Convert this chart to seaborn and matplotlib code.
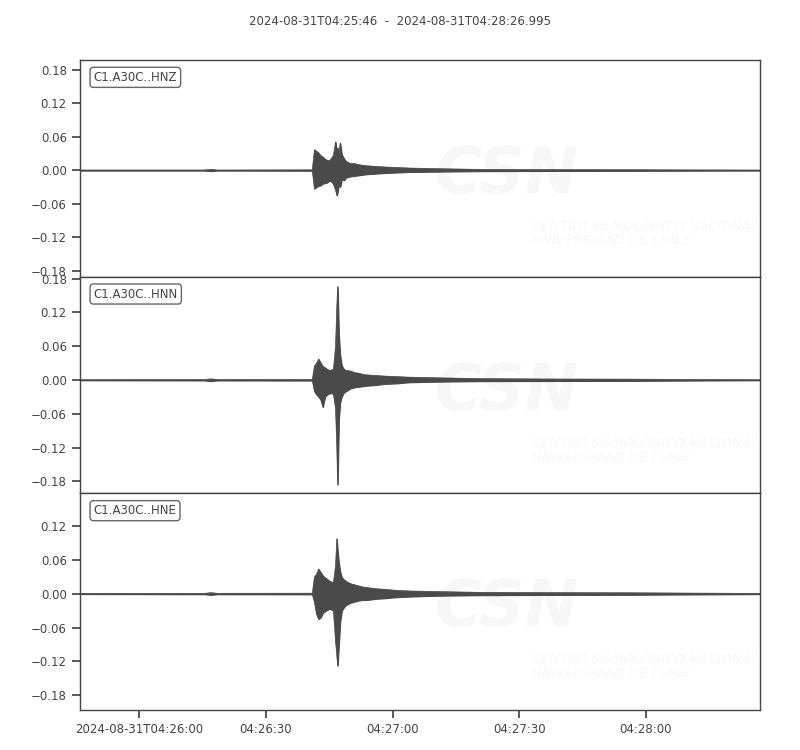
import matplotlib
matplotlib.use('Agg')
import matplotlib.pyplot as plt
import seaborn as sns
import pandas as pd

start_time = '2024-08-31 04:25:46'
title = '2024-08-31T04:25:46  -  2024-08-31T04:28:26.995'
channels = ['C1.A30C..HNZ', 'C1.A30C..HNN', 'C1.A30C..HNE']

# seconds after start_time, envelope (max/min per time bin)
t_sec = [0, 29.5, 31, 32.5, 55.0, 55.5, 56.0, 56.5, 57.0, 57.5, 58.0, 58.5, 59.0, 59.5,
         60.0, 60.5, 60.8, 61.0, 61.3, 61.6, 62.0, 62.5, 63.0, 64, 65, 66, 67, 68,
         70, 72, 75, 78, 84, 95, 110, 130, 145, 160.995]

hnz_max = [0.0005, 0.0005, 0.0018, 0.0005, 0.0008, 0.037, 0.034, 0.031, 0.026, 0.024, 0.020, 0.018, 0.017, 0.021,
           0.027, 0.051, 0.035, 0.040, 0.030, 0.049, 0.028, 0.021, 0.016, 0.012, 0.012, 0.010, 0.009, 0.008,
           0.007, 0.006, 0.005, 0.004, 0.003, 0.0015, 0.0012, 0.001, 0.0007, 0.0005]
hnz_min = [-0.0005, -0.0005, -0.0015, -0.0005, -0.0008, -0.033, -0.030, -0.028, -0.027, -0.024, -0.023, -0.022, -0.019, -0.020,
           -0.025, -0.035, -0.045, -0.040, -0.025, -0.030, -0.016, -0.018, -0.013, -0.011, -0.010, -0.009, -0.008, -0.007,
           -0.006, -0.005, -0.004, -0.003, -0.0025, -0.0015, -0.0012, -0.001, -0.0007, -0.0005]

hnn_max = [0.0005, 0.0008, 0.002, 0.0008, 0.001, 0.025, 0.030, 0.037, 0.030, 0.024, 0.022, 0.019, 0.017, 0.018,
           0.019, 0.060, 0.130, 0.166, 0.080, 0.045, 0.025, 0.019, 0.017, 0.016, 0.013, 0.012, 0.010, 0.009,
           0.008, 0.007, 0.006, 0.005, 0.004, 0.0025, 0.0018, 0.0015, 0.001, 0.0005]
hnn_min = [-0.0005, -0.0008, -0.002, -0.0008, -0.001, -0.020, -0.026, -0.030, -0.035, -0.048, -0.030, -0.026, -0.024, -0.023,
           -0.025, -0.050, -0.120, -0.186, -0.070, -0.040, -0.029, -0.022, -0.020, -0.015, -0.013, -0.012, -0.011, -0.010,
           -0.009, -0.007, -0.006, -0.004, -0.003, -0.002, -0.0018, -0.0015, -0.001, -0.0005]

hne_max = [0.0005, 0.0008, 0.002, 0.0008, 0.001, 0.030, 0.035, 0.044, 0.038, 0.032, 0.029, 0.026, 0.023, 0.021,
           0.020, 0.050, 0.098, 0.077, 0.055, 0.040, 0.029, 0.025, 0.022, 0.018, 0.016, 0.014, 0.012, 0.011,
           0.009, 0.008, 0.006, 0.005, 0.004, 0.0025, 0.002, 0.0018, 0.0012, 0.0006]
hne_min = [-0.0005, -0.0008, -0.002, -0.0008, -0.001, -0.015, -0.036, -0.045, -0.042, -0.034, -0.031, -0.029, -0.027, -0.028,
           -0.030, -0.084, -0.110, -0.128, -0.090, -0.050, -0.030, -0.024, -0.020, -0.016, -0.014, -0.012, -0.011, -0.011,
           -0.009, -0.008, -0.006, -0.005, -0.0035, -0.0025, -0.002, -0.0018, -0.0012, -0.0006]

y_limits = [(-0.191, 0.198), (-0.2014, 0.1836), (-0.2067, 0.1786)]
y_ticks = [-0.18, -0.12, -0.06, 0.0, 0.06, 0.12, 0.18]

tick_times = ['2024-08-31 04:26:00', '2024-08-31 04:26:30', '2024-08-31 04:27:00',
              '2024-08-31 04:27:30', '2024-08-31 04:28:00']
tick_labels = ['2024-08-31T04:26:00', '04:26:30', '04:27:00', '04:27:30', '04:28:00']

sns.set_theme(style='ticks', rc={
    'axes.edgecolor': '#444444', 'axes.labelcolor': '#444444',
    'xtick.color': '#444444', 'ytick.color': '#444444', 'text.color': '#444444',
    'xtick.labelsize': 8.5, 'ytick.labelsize': 8.5, 'axes.linewidth': 1.0,
})
plt.rcParams['font.family'] = ['DejaVu Sans']

trace_color = '#4a4a4a'
t0 = pd.Timestamp(start_time)
times = t0 + pd.to_timedelta(t_sec, unit='s')

fig, axes = plt.subplots(3, 1, figsize=(8, 7.5), dpi=100, sharex=True)
fig.subplots_adjust(left=0.1, right=0.95, top=0.92, bottom=0.0533, hspace=0)

envelopes = [(hnz_max, hnz_min), (hnn_max, hnn_min), (hne_max, hne_min)]
for ax, label, (hi, lo), ylim in zip(axes, channels, envelopes, y_limits):
    df = pd.DataFrame({'time': times, 'max': hi, 'min': lo})

    # faint CSN watermark
    ax.text(0.628, 0.47, 'CSN', transform=ax.transAxes, ha='center', va='center',
            fontsize=46, fontweight='bold', fontstyle='italic', color='#f7f7f7', zorder=0)
    ax.text(0.665, 0.2, 'CENTRO SISMOLÓGICO NACIONAL\nUNIVERSIDAD DE CHILE', transform=ax.transAxes,
            ha='left', va='center', fontsize=9.5, fontstyle='italic', color='#f7f7f7',
            linespacing=1.1, zorder=0)

    ax.fill_between(df['time'], df['min'], df['max'], color=trace_color, lw=0.8, zorder=2)
    sns.lineplot(data=df, x='time', y='max', ax=ax, color=trace_color, lw=0.5, zorder=2)
    sns.lineplot(data=df, x='time', y='min', ax=ax, color=trace_color, lw=0.5, zorder=2)

    ax.set_ylim(*ylim)
    ticks = [v for v in y_ticks if ylim[0] <= v <= ylim[1]]
    ax.set_yticks(ticks)
    ax.set_yticklabels([f'{v:.2f}'.replace('-', '\u2212') for v in ticks])
    ax.set_ylim(*ylim)
    ax.set_ylabel('')
    ax.set_xlabel('')
    ax.text(0.02, 0.95, label, transform=ax.transAxes, va='top', ha='left', fontsize=8.5,
            bbox=dict(boxstyle='round', fc='white', ec='#555555', alpha=0.9), zorder=5)

axes[0].set_xlim(t0, t0 + pd.Timedelta(seconds=160.995))
axes[-1].set_xticks(pd.to_datetime(tick_times))
axes[-1].set_xticklabels(tick_labels)
for ax in axes[:-1]:
    ax.tick_params(axis='x', bottom=False, labelbottom=False)

fig.suptitle(title, fontsize=8.5, y=0.98, color='#444444')
fig.savefig('out.png', dpi=100)
